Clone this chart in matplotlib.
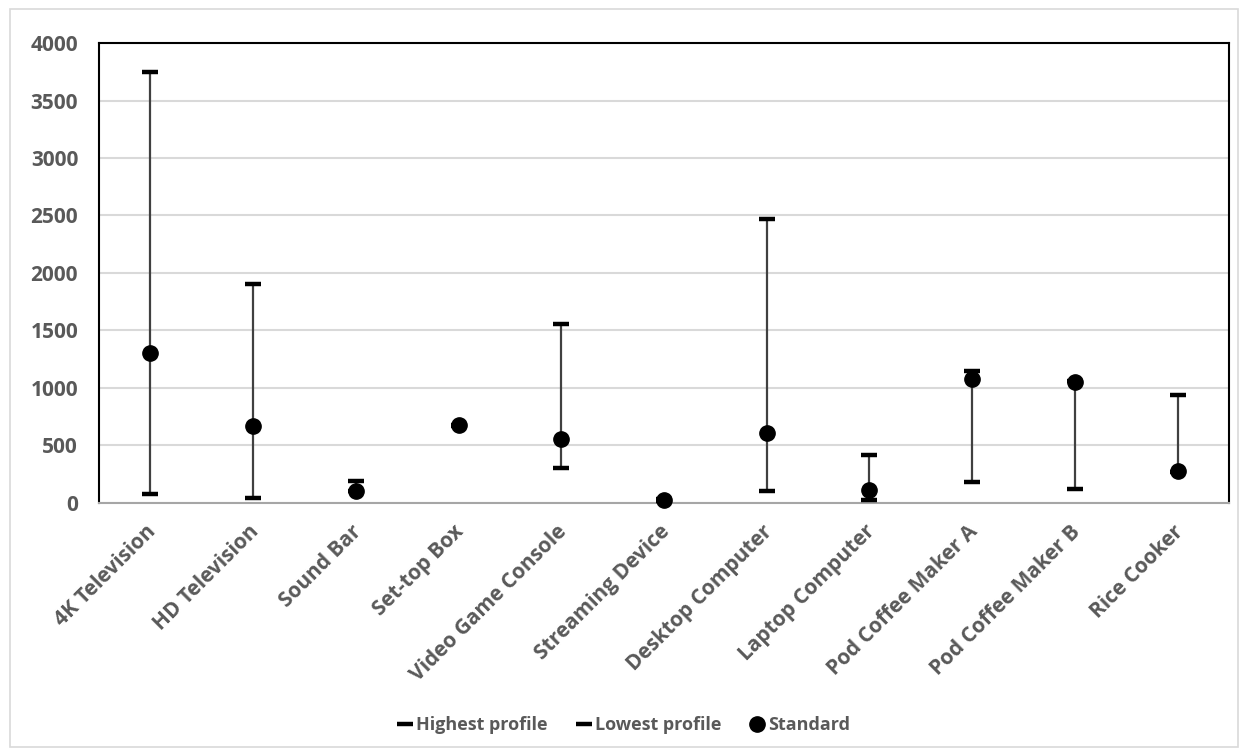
#! /usr/bin/env python
#   Product power profiles: high / low range with standard value
#

import numpy as np
import matplotlib
matplotlib.use('Agg')
import matplotlib.pyplot as plt
import matplotlib.transforms as mtransforms
from matplotlib.lines import Line2D
from matplotlib.patches import Rectangle

categories = ['4K Television', 'HD Television', 'Sound Bar', 'Set-top Box',
              'Video Game Console', 'Streaming Device', 'Desktop Computer',
              'Laptop Computer', 'Pod Coffee Maker A', 'Pod Coffee Maker B',
              'Rice Cooker']
highest = [3745, 1900, 195, 680, 1560, 35, 2470, 420, 1145, 1060, 935]
lowest = [80, 45, 100, 670, 300, 20, 105, 25, 185, 120, 270]
standard = [1300, 670, 105, 675, 555, 25, 605, 110, 1075, 1050, 275]
yticks = [0, 500, 1000, 1500, 2000, 2500, 3000, 3500, 4000]


def main():
    GRAY = '#595959'
    FONT = 'Open Sans'

    plt.rcParams['font.family'] = [FONT, 'DejaVu Sans']
    plt.rcParams['font.weight'] = 'bold'

    fig = plt.figure(figsize=(12.48, 7.56), dpi=100)
    fig.patches.append(Rectangle((0.008, 0.012), 0.984, 0.976,
                                 transform=fig.transFigure, fill=False,
                                 edgecolor='#d9d9d9', linewidth=1.2))
    ax = fig.add_axes([0.0793, 0.3347, 0.9055, 0.6084])

    x = np.arange(len(categories))

    ax.vlines(x, lowest, highest, color='#404040', linewidth=1.6, zorder=2)
    ax.plot(x, highest, linestyle='none', marker='_', markersize=11,
            markeredgewidth=3.2, color='black', zorder=3, clip_on=False)
    ax.plot(x, lowest, linestyle='none', marker='_', markersize=11,
            markeredgewidth=3.2, color='black', zorder=3, clip_on=False)
    ax.plot(x, standard, linestyle='none', marker='o', markersize=11,
            color='black', zorder=4, clip_on=False)

    ax.set_xlim(-0.5, len(categories) - 0.5)
    ax.set_ylim(0, 4000)
    ax.set_yticks(yticks)
    ax.set_xticks(x)
    ax.set_xticklabels(categories, rotation=45, ha='right', va='top',
                       rotation_mode='anchor', fontsize=15,
                       fontweight='bold', color=GRAY)
    ax.set_yticklabels([str(v) for v in yticks], fontsize=15,
                       fontweight='bold', color=GRAY)
    ax.tick_params(axis='both', length=0)
    ax.tick_params(axis='x', pad=13)
    ax.tick_params(axis='y', pad=15)

    # nudge category labels so they end right at the tick
    shift = mtransforms.ScaledTranslation(-5 / 100, 0, fig.dpi_scale_trans)
    for lab in ax.get_xticklabels():
        lab.set_transform(lab.get_transform() + shift)

    ax.yaxis.grid(True, color='#d9d9d9', linewidth=1.5)
    ax.set_axisbelow(True)
    for side in ['left', 'top', 'right']:
        ax.spines[side].set_color('black')
        ax.spines[side].set_linewidth(1.5)
    ax.spines['bottom'].set_color('#a6a6a6')
    ax.spines['bottom'].set_linewidth(1.5)

    handles = [
        Line2D([], [], linestyle='none', marker='_', markersize=11,
               markeredgewidth=3.2, color='black'),
        Line2D([], [], linestyle='none', marker='_', markersize=11,
               markeredgewidth=3.2, color='black'),
        Line2D([], [], linestyle='none', marker='o', markersize=11,
               color='black'),
    ]
    leg = fig.legend(handles, ['Highest profile', 'Lowest profile', 'Standard'],
                     loc='center', bbox_to_anchor=(0.5, 0.041), ncol=3,
                     frameon=False, fontsize=13, handlelength=0.8,
                     handletextpad=0.2, columnspacing=1.6)
    for t in leg.get_texts():
        t.set_color(GRAY)
        t.set_fontweight('bold')

    fig.savefig('out.png', dpi=100)


if __name__ == "__main__":
    main()
